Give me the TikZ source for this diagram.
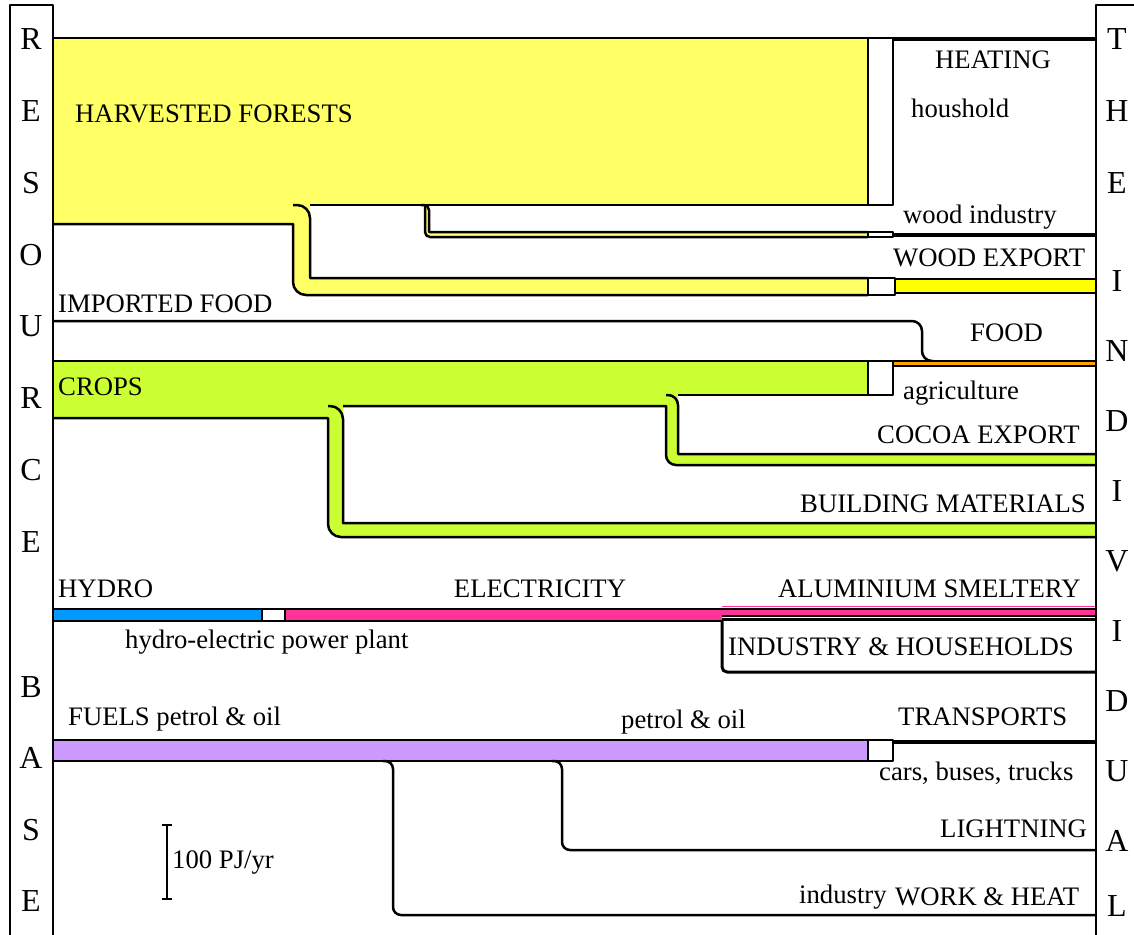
\documentclass[tikz,border=0pt]{standalone}
\usepackage{fontspec}
\setmainfont{Liberation Serif}
\definecolor{forestY}{HTML}{FFFF66}
\definecolor{exportY}{HTML}{FFFF00}
\definecolor{cropG}{HTML}{CCFF33}
\definecolor{foodO}{HTML}{FFA500}
\definecolor{hydroB}{HTML}{0099FF}
\definecolor{elecP}{HTML}{FF3399}
\definecolor{fuelP}{HTML}{CC99FF}
\begin{document}
\begin{tikzpicture}[x=1pt,y=-1pt,line join=round,
  bd/.style={draw=black,line width=2.5pt},
  outline/.style={draw=black,line width=4pt},
  conv/.style={draw=black,line width=2.5pt,fill=white},
  txt/.style={inner sep=0pt,anchor=base west,font=\fontsize{26.7}{30}\selectfont},
  colletter/.style={inner sep=0pt,anchor=base,font=\fontsize{32}{36}\selectfont}]
\useasboundingbox (0,0) rectangle (1134,934);
\fill[white] (0,0) rectangle (1134,934);

% ---------- harvested forests ----------
\fill[forestY] (53,38) -- (868,38) -- (868,205) -- (429,205) -- (429,232) -- (868,232) -- (868,237) [rounded corners=5pt] -- (425,237) [sharp corners] -- (425,205) -- (310,205) -- (310,278) -- (868,278) -- (868,295) [rounded corners=13pt] -- (293,295) [sharp corners] -- (293,224) -- (53,224) -- cycle;
\draw[bd] (53,38) -- (868,38);
\draw[bd] (310,205) -- (868,205);
\draw[bd] (53,224) -- (293,224) [rounded corners=13pt] -- (293,295) [sharp corners] -- (868,295);
\draw[bd] (293,205) [rounded corners=13pt] -- (310,205) [sharp corners] -- (310,278) -- (868,278);
\draw[bd] (421,205) [rounded corners=5pt] -- (429,205) [sharp corners] -- (429,232) -- (868,232);
\draw[bd] (425,206) [rounded corners=5pt] -- (425,237) [sharp corners] -- (868,237);

% ---------- imported food ----------
\draw[bd] (53,321) [rounded corners=10pt] -- (922,321) -- (922,361) [sharp corners] -- (934,361);

% ---------- crops ----------
\fill[cropG] (53,361) -- (868,361) -- (868,395) -- (678,395) -- (678,454) -- (1096,454) -- (1096,465) [rounded corners=10pt] -- (666,465) [sharp corners] -- (666,406) -- (343,406) -- (343,523) -- (1096,523) -- (1096,537) [rounded corners=13pt] -- (328,537) [sharp corners] -- (328,418) -- (53,418) -- cycle;
\draw[bd] (53,361) -- (868,361);
\draw[bd] (53,418) -- (328,418) [rounded corners=13pt] -- (328,537) [sharp corners] -- (1096,537);
\draw[bd] (328,406) [rounded corners=13pt] -- (343,406) [sharp corners] -- (343,523) -- (1096,523);
\draw[bd] (343,406) -- (666,406) [rounded corners=10pt] -- (666,465) [sharp corners] -- (1096,465);
\draw[bd] (666,395) [rounded corners=10pt] -- (678,395) [sharp corners] -- (678,454) -- (1096,454);
\draw[bd] (678,395) -- (868,395);

% ---------- converters and outputs (top) ----------
\draw[conv] (868,38) rectangle (893,205);
\draw[conv] (868,232) rectangle (893,237);
\draw[conv] (868,278) rectangle (895,295);
\draw[conv] (868,361) rectangle (893,395);
\draw[outline] (893,39.5) -- (1096,39.5);
\draw[outline] (893,234.5) -- (1096,234.5);
\draw[bd,fill=exportY] (895,279) rectangle (1096,293);
\draw[bd,fill=foodO] (893,361) rectangle (1096,366);

% ---------- hydro / electricity ----------
\draw[bd,fill=hydroB] (53,609) rectangle (262,621);
\fill[elecP] (285,609) -- (1096,609) -- (1096,616) -- (722,616) -- (722,621) -- (285,621) -- cycle;
\draw[elecP,line width=1.5pt] (722,606.5) -- (1096,606.5);
\draw[bd] (285,609) -- (1096,609);
\draw[bd] (285,621) -- (722,621);
\draw[bd] (722,616) -- (1096,616);
\draw[conv] (262,609) rectangle (285,621);
\draw[bd] (722,619.5) -- (1096,619.5);
\draw[line width=3pt] (722,620) [rounded corners=5pt] -- (722,672) [sharp corners] -- (1096,672);

% ---------- fuels ----------
\draw[bd,fill=fuelP] (53,740) rectangle (868,761);
\draw[conv] (868,740) rectangle (893,761);
\draw[outline] (893,742) -- (1096,742);
\draw[bd] (383,761) [rounded corners=8pt] -- (393,761) -- (393,915) [sharp corners] -- (1096,915);
\draw[bd] (552,761) [rounded corners=8pt] -- (562,761) -- (562,850) [sharp corners] -- (1096,850);

% ---------- scale bar ----------
\draw[line width=2.5pt] (167,825) -- (167,899);
\draw[line width=2.5pt] (162,825) -- (172,825);
\draw[line width=2.5pt] (162,899) -- (172,899);

% ---------- side columns ----------
\draw[bd] (10,950) -- (10,5) -- (53,5) -- (53,950);
\draw[bd] (1096,950) -- (1096,5) -- (1145,5);

% ---------- labels ----------
\node[txt] (tHF) at (75,122) {HARVESTED FORESTS};
\node[txt] (tHE) at (935,69) {HEATING};
\node[txt] (tHO) at (911,117) {houshold};
\node[txt] (tWI) at (903,223) {wood industry};
\node[txt] (tWE) at (893,266) {WOOD EXPORT};
\node[txt] (tIF) at (58,312) {IMPORTED FOOD};
\node[txt] (tFO) at (970,341) {FOOD};
\node[txt] (tCR) at (58,395) {CROPS};
\node[txt] (tAG) at (903,399) {agriculture};
\node[txt] (tCE) at (877,443) {COCOA EXPORT};
\node[txt] (tBM) at (800,512) {BUILDING MATERIALS};
\node[txt] (tHY) at (58,597) {HYDRO};
\node[txt,anchor=base] (tEL) at (540,597) {ELECTRICITY};
\node[txt] (tAL) at (778,597) {ALUMINIUM SMELTERY};
\node[txt] (tHP) at (125,648) {hydro-electric power plant};
\node[txt] (tIH) at (728,655) {INDUSTRY \& HOUSEHOLDS};
\node[txt] (tFU) at (68,725) {FUELS petrol \& oil};
\node[txt] (tPO) at (621,728) {petrol \& oil};
\node[txt] (tTR) at (898,725) {TRANSPORTS};
\node[txt] (tCB) at (879,780) {cars, buses, trucks};
\node[txt] (tLI) at (940,837) {LIGHTNING};
\node[txt] (tIN) at (799,903) {industry};
\node[txt] (tWH) at (895,905) {WORK \& HEAT};
\node[txt] (tSC) at (172,868) {100 PJ/yr};

% ---------- column letters ----------
\foreach \ch/\yy [count=\i] in {R/38,E/110,S/182,O/254,U/325,R/397,C/469,E/541,B/686,A/757,S/829,E/900}
  \node[colletter] (L\i) at (31,\yy+11) {\ch};
\foreach \ch/\yy [count=\i] in {T/38,H/110,E/182,I/280,N/350,D/420,I/490,V/560,I/630,D/700,U/770,A/840,L/905}
  \node[colletter] (R\i) at (1117,\yy+11) {\ch};
\end{tikzpicture}
\end{document}
